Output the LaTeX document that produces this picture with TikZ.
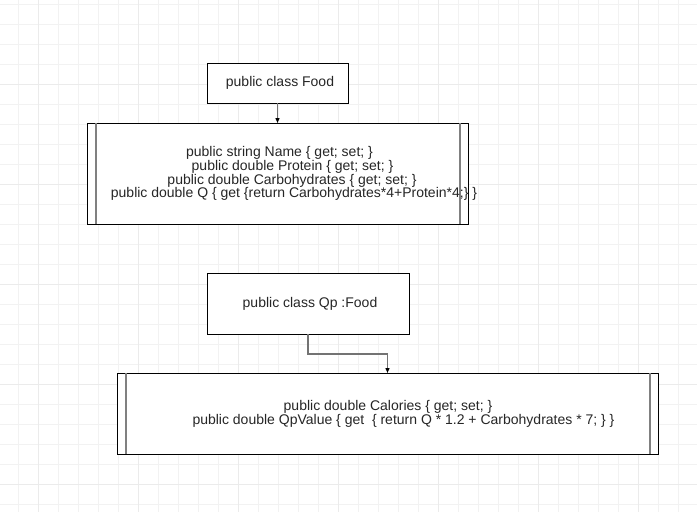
\documentclass[tikz,border=0pt]{standalone}
\usepackage{fontspec}
\setmainfont{Liberation Sans}
\usetikzlibrary{arrows.meta}
\begin{document}
\begin{tikzpicture}[x=1pt,y=-1pt,
  minorgrid/.style={draw=black!5,line width=1pt},
  majorgrid/.style={draw=black!8,line width=1pt},
  box/.style={draw=black,fill=white,line width=1pt,inner sep=0pt,outer sep=0pt,rectangle},
  txt/.style={font=\fontsize{14}{13.8}\selectfont,text=black!85,align=center,inner sep=0pt},
  innerline/.style={draw=black!50,line width=1.8pt},
  conn/.style={draw=black!55,line width=1.5pt,-{Triangle[length=5pt,width=4pt,color=black]}},
]
\useasboundingbox (0,0) rectangle (697,512);
\fill[white] (0,0) rectangle (697,512);
\foreach \x in {18,38,...,697} \draw[minorgrid] (\x,0) -- (\x,512);
\foreach \y in {4,24,...,512} \draw[minorgrid] (0,\y) -- (697,\y);
\foreach \x in {38,138,...,697} \draw[majorgrid] (\x,0) -- (\x,512);
\foreach \y in {84,184,...,512} \draw[majorgrid] (0,\y) -- (697,\y);

% boxes
\node[box,minimum width=141pt,minimum height=40pt] (b1) at (277.5,83) {};
\node[txt] (b1t) at (b1.center) {\hspace*{5pt}public class Food};

\node[box,minimum width=381pt,minimum height=101pt] (b2) at (277.5,173.5) {};
\draw[innerline] ([xshift=9pt]b2.north west) -- ([xshift=9pt]b2.south west);
\draw[innerline] ([xshift=-8pt]b2.north east) -- ([xshift=-8pt]b2.south east);
\node[txt] (b2t) at (b2.center) {\hspace*{4pt}public string Name \{ get; set; \}\\
\hspace*{30pt}public double Protein \{ get; set; \}\\
\hspace*{29pt}public double Carbohydrates \{ get; set; \}\\
\hspace*{33pt}public double Q \{ get \{return Carbohydrates*4+Protein*4;\} \}};

\node[box,minimum width=202pt,minimum height=61pt] (b3) at (308,303.5) {};
\node[txt] (b3t) at (b3.center) {\hspace*{4pt}public class Qp :Food};

\node[box,minimum width=541pt,minimum height=81pt] (b4) at (387.5,413.5) {};
\draw[innerline] ([xshift=9pt]b4.north west) -- ([xshift=9pt]b4.south west);
\draw[innerline] ([xshift=-8pt]b4.north east) -- ([xshift=-8pt]b4.south east);
\node[txt] (b4t) at (b4.center) {\hspace*{1pt}public double Calories \{ get; set; \}\\
\hspace*{32pt}public double QpValue \{ get\ \ \{ return Q * 1.2 + Carbohydrates * 7; \} \}};

% connectors
\draw[conn] (b1.south) -- (b2.north);
\draw[conn] (b3.south) -- ++(0,20) -| (b4.north);
\end{tikzpicture}
\end{document}
